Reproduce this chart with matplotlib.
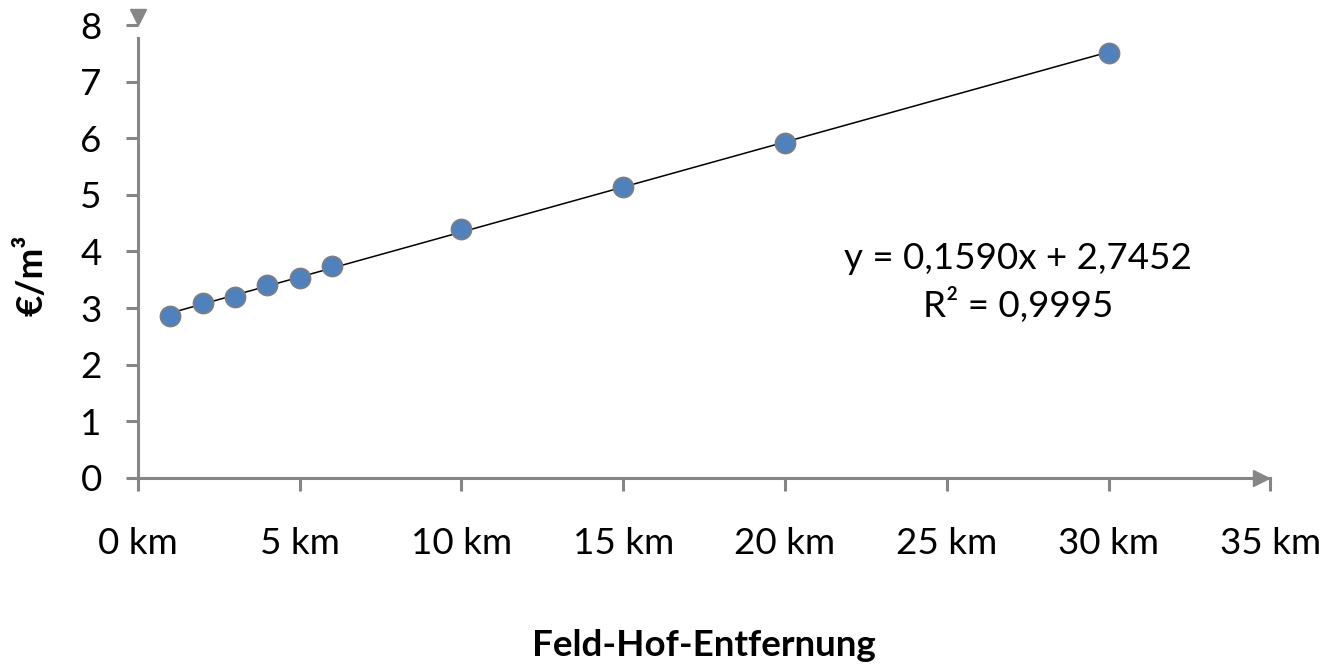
import numpy as np
import matplotlib.pyplot as plt

# Daten: Feld-Hof-Entfernung (km) und Kosten (€/m³)
entfernung_km = [1, 2, 3, 4, 5, 6, 10, 15, 20, 30]
kosten_eur_m3 = [2.86, 3.09, 3.20, 3.41, 3.53, 3.74, 4.40, 5.14, 5.92, 7.51]
x_ticks = [0, 5, 10, 15, 20, 25, 30, 35]
x_ticklabels = [f"{t} km" for t in x_ticks]
y_ticks = [0, 1, 2, 3, 4, 5, 6, 7, 8]
gleichung = "y = 0,1590x + 2,7452\nR² = 0,9995"

plt.rcParams['font.family'] = ['Lato', 'DejaVu Sans']
achse = '#868686'

fig = plt.figure(figsize=(13.26, 6.67), dpi=100)
ax = fig.add_axes([0.104, 0.2834, 0.854, 0.6791])

# lineare Trendlinie
m, b = np.polyfit(entfernung_km, kosten_eur_m3, 1)
xs = np.array([min(entfernung_km), max(entfernung_km)])
ax.plot(xs, m * xs + b, color='black', lw=1.1, zorder=2)

ax.plot(entfernung_km, kosten_eur_m3, 'o', ms=14.5, mfc='#4F81BD',
        mec='#7F7F7F', mew=1.2, zorder=3)

ax.set_xlim(0, 35)
ax.set_ylim(0, 8)
ax.set_xticks(x_ticks)
ax.set_xticklabels(x_ticklabels)
ax.set_yticks(y_ticks)

for s in ['top', 'right']:
    ax.spines[s].set_visible(False)
for s in ['left', 'bottom']:
    ax.spines[s].set_color(achse)
    ax.spines[s].set_linewidth(2.2)
ax.spines['left'].set_bounds(0, 7.77)

ax.tick_params(axis='both', colors=achse, width=2.2, length=9,
               labelsize=26.5, labelcolor='black')
ax.tick_params(axis='x', pad=26)
ax.tick_params(axis='y', pad=17)

# Pfeilspitzen der Achsen
ax.plot([34.72], [0], '>', ms=11, color=achse, clip_on=False, zorder=4)
ax.plot([0], [8.15], 'v', ms=12, color=achse, clip_on=False, zorder=4)

ax.text(27.2, 3.46, gleichung, ha='center', va='center', fontsize=26.5,
        linespacing=1.4, multialignment='center')

ax.text(0.5, 1 - 645 / 667, "Feld-Hof-Entfernung", ha='center', va='center',
        fontsize=26.5, fontweight='bold',
        transform=ax.get_yaxis_transform().__class__(ax.transAxes, fig.transFigure))
fig.text(32 / 1326, 1 - 275 / 667, "€/m³", ha='center', va='center',
         rotation=90, fontsize=26.5, fontweight='bold')

fig.savefig('out.png', dpi=100)
